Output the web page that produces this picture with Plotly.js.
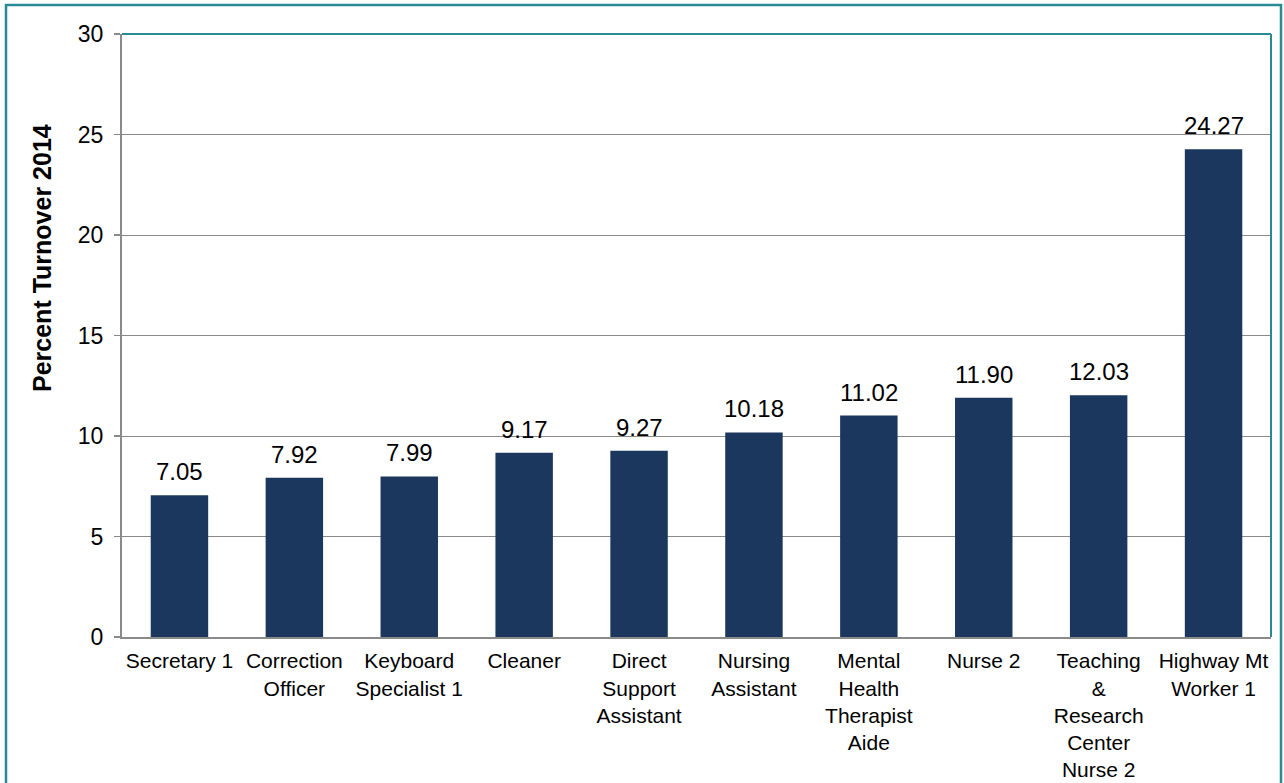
<!DOCTYPE html>
<html>
<head>
<meta charset="utf-8">
<script src="https://cdn.plot.ly/plotly-3.0.1.min.js"></script>
<style>
  html, body { margin: 0; padding: 0; background: #ffffff; }
  #chart { width: 1284px; height: 783px; }
</style>
</head>
<body>
<div id="chart"></div>
<script>
const categories = [
  "Secretary 1",
  "Correction<br>Officer",
  "Keyboard<br>Specialist 1",
  "Cleaner",
  "Direct<br>Support<br>Assistant",
  "Nursing<br>Assistant",
  "Mental<br>Health<br>Therapist<br>Aide",
  "Nurse 2",
  "Teaching<br>&<br>Research<br>Center<br>Nurse 2",
  "Highway Mt<br>Worker 1"
];
const turnover = [7.05, 7.92, 7.99, 9.17, 9.27, 10.18, 11.02, 11.90, 12.03, 24.27];
const yTitle = "Percent Turnover 2014";

const W = 1284, H = 783;
const M = { l: 122, r: 13, t: 34, b: 146 };
const pw = W - M.l - M.r, ph = H - M.t - M.b;
const px = x => (x - M.l) / pw;
const py = y => (H - M.b - y) / ph;

const teal = "#2A8A94";
const gray = "#8A8A8A";
const FONT = "Liberation Sans, Arial, sans-serif";

const trace = {
  type: "bar",
  x: categories,
  y: turnover,
  marker: { color: "#1B375E", line: { width: 0 } },
  hoverinfo: "x+y"
};

const annotations = categories.map((c, i) => ({
  x: c, y: turnover[i], xref: "x", yref: "y",
  text: turnover[i].toFixed(2),
  showarrow: false, yanchor: "bottom", yshift: 8,
  font: { family: FONT, size: 24, color: "#000" }
}));

annotations.push({
  xref: "paper", yref: "paper", x: px(42), y: py(258),
  xanchor: "center", yanchor: "middle", textangle: -90, showarrow: false,
  text: "<b>" + yTitle + "</b>",
  font: { family: FONT, size: 25, color: "#000" }
});

const layout = {
  width: W, height: H,
  margin: M,
  paper_bgcolor: "#ffffff",
  plot_bgcolor: "#ffffff",
  showlegend: false,
  bargap: 0.5,
  font: { family: FONT, color: "#000" },
  xaxis: {
    type: "category",
    showgrid: false,
    showline: true, linecolor: gray, linewidth: 2,
    ticks: "", tickangle: 0,
    ticklabelstandoff: 4,
    tickfont: { size: 21, color: "#000" },
    automargin: false
  },
  yaxis: {
    range: [0, 30], dtick: 5, tick0: 0,
    showgrid: true, gridcolor: gray, gridwidth: 1,
    zeroline: false,
    showline: true, linecolor: gray, linewidth: 2,
    ticks: "outside", ticklen: 6, tickcolor: gray, tickwidth: 1.5,
    ticklabelstandoff: 6,
    tickfont: { size: 23, color: "#000" },
    automargin: false
  },
  annotations: annotations,
  shapes: [
    { type: "line", xref: "paper", yref: "paper", x0: 0, x1: 1, y0: 1, y1: 1,
      line: { color: teal, width: 2 } },
    { type: "line", xref: "paper", yref: "paper", x0: 1, x1: 1, y0: 0, y1: 1,
      line: { color: teal, width: 2 } },
    { type: "rect", xref: "paper", yref: "paper",
      x0: px(6), x1: px(1281), y0: py(795), y1: py(5),
      line: { color: teal, width: 2.5 }, fillcolor: "rgba(0,0,0,0)", layer: "above" }
  ]
};

Plotly.newPlot("chart", [trace], layout, { displayModeBar: false, staticPlot: true });
</script>
</body>
</html>
